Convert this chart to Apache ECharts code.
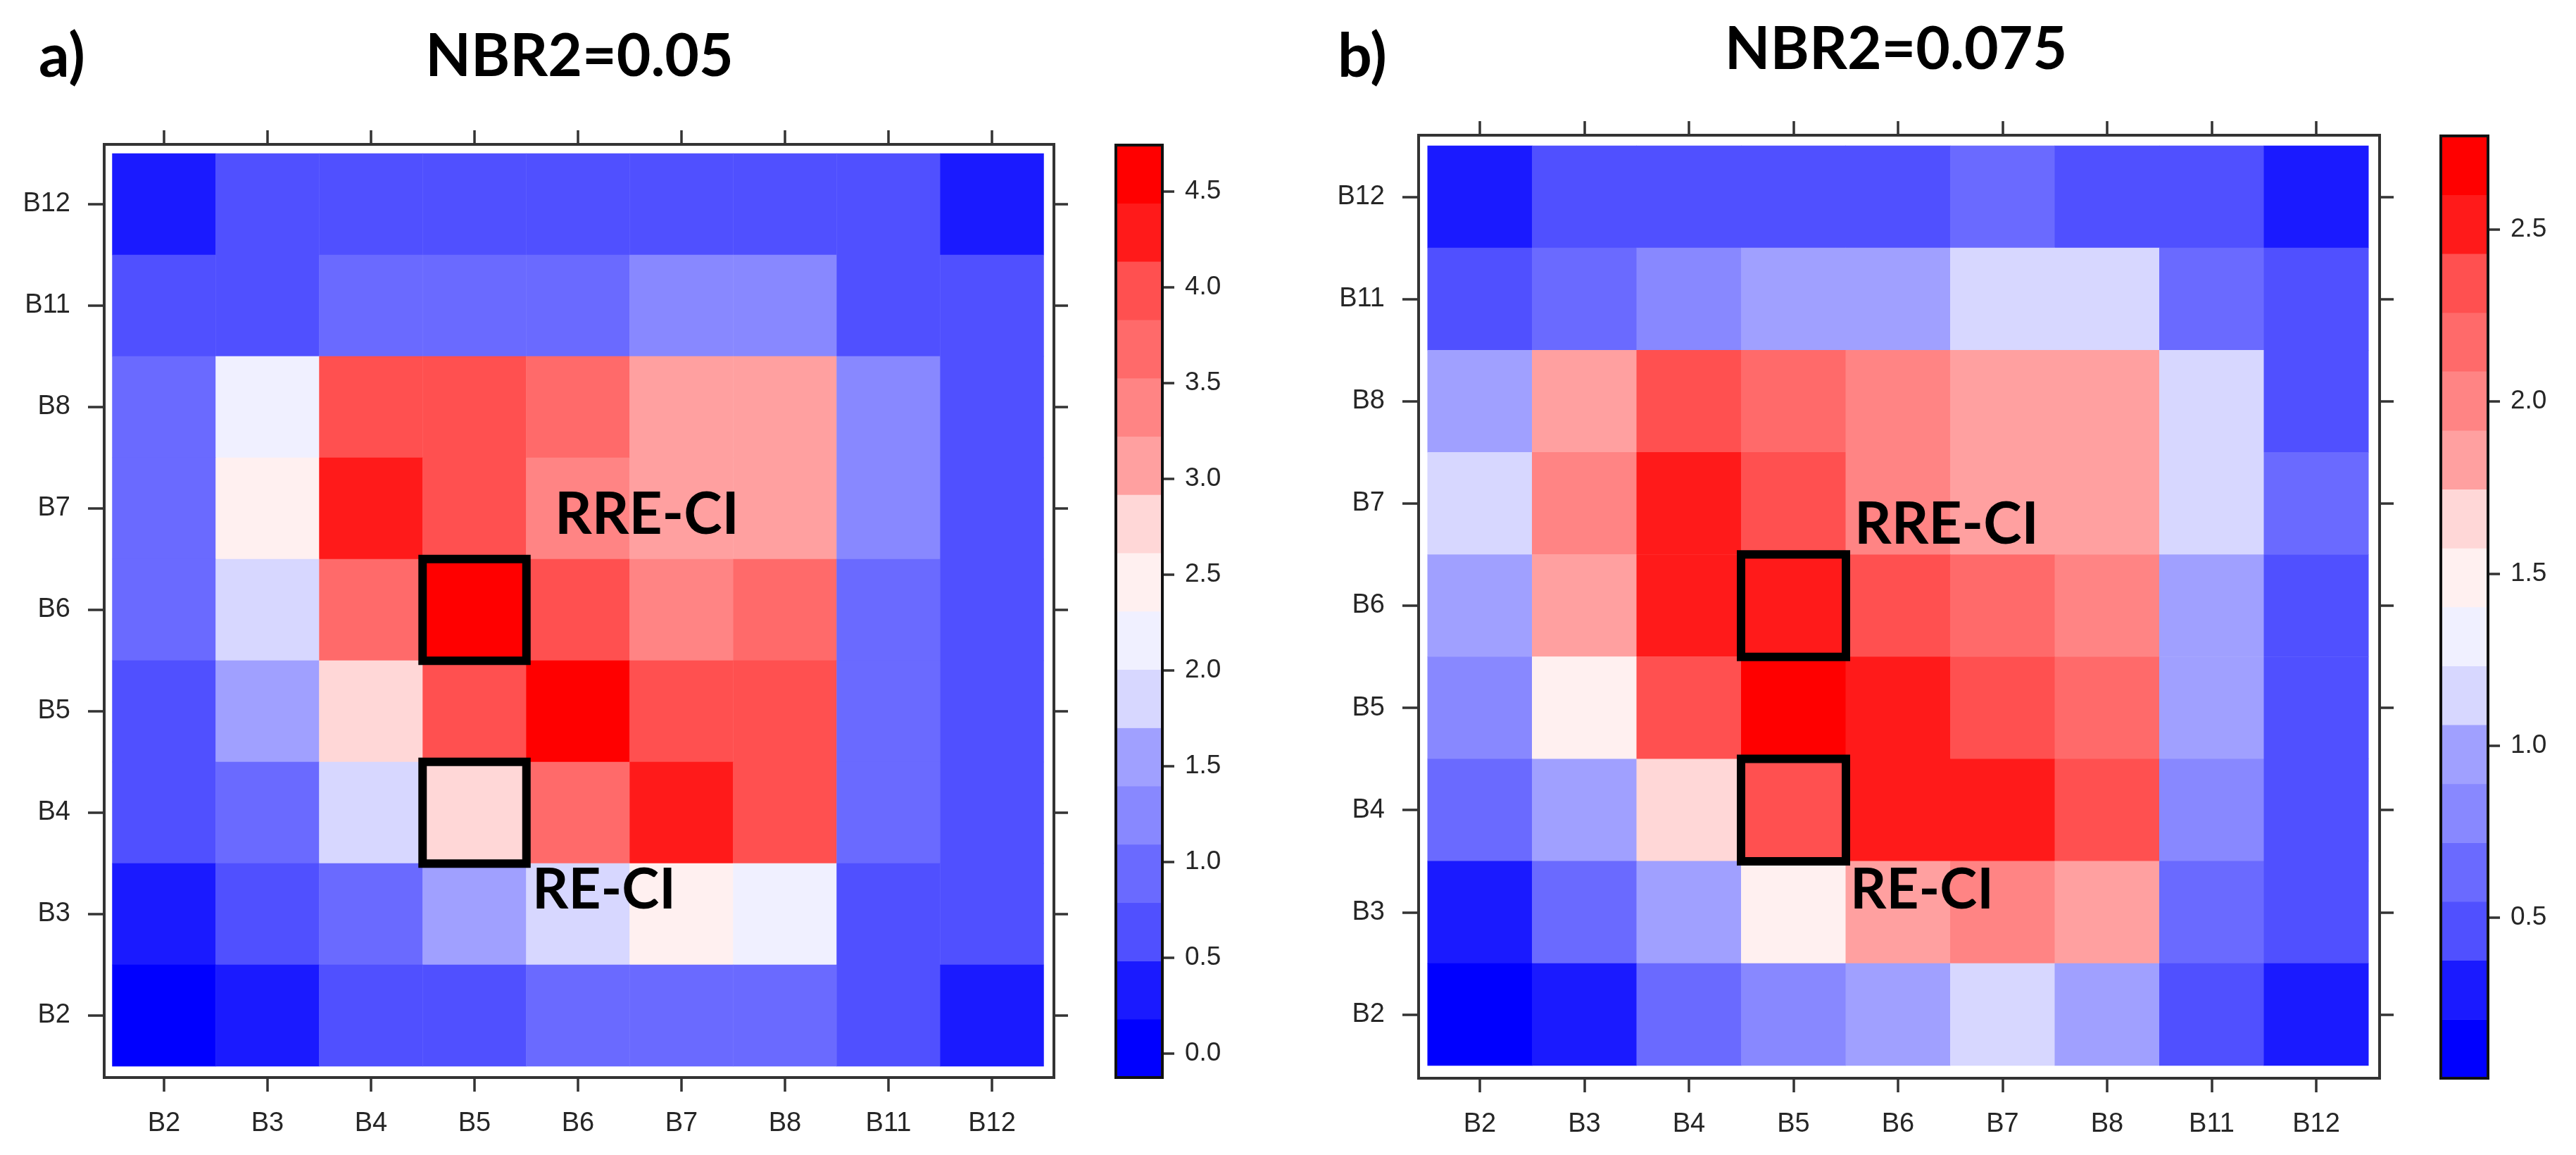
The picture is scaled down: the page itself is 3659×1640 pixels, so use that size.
<!DOCTYPE html>
<html>
<head>
<meta charset="utf-8">
<script src="https://cdn.jsdelivr.net/npm/echarts@6/dist/echarts.min.js"></script>
<style>
  html, body { margin: 0; background: #fff; }
  #chart { width: 3659px; height: 1640px; }
</style>
</head>
<body>
<div id="chart"></div>
<script>
// band names on both axes (bottom -> top for y)
const xCats = ['B2', 'B3', 'B4', 'B5', 'B6', 'B7', 'B8', 'B11', 'B12'];
const yCats = ['B2', 'B3', 'B4', 'B5', 'B6', 'B7', 'B8', 'B11', 'B12'];
// matrix rows as drawn, top -> bottom
const rowNames = ['B12', 'B11', 'B8', 'B7', 'B6', 'B5', 'B4', 'B3', 'B2'];

// a) NBR2 = 0.05
const valuesA = [
  [0.33, 0.64, 0.64, 0.64, 0.64, 0.64, 0.64, 0.64, 0.33],
  [0.64, 0.64, 0.94, 0.94, 0.94, 1.24, 1.24, 0.64, 0.64],
  [0.94, 2.16, 3.98, 3.98, 3.68, 3.07, 3.07, 1.24, 0.64],
  [0.94, 2.46, 4.29, 3.98, 3.37, 3.07, 3.07, 1.24, 0.64],
  [0.94, 1.85, 3.68, 4.59, 3.98, 3.37, 3.68, 0.94, 0.64],
  [0.64, 1.55, 2.77, 3.98, 4.59, 3.98, 3.98, 0.94, 0.64],
  [0.64, 0.94, 1.85, 2.77, 3.68, 4.29, 3.98, 0.94, 0.64],
  [0.33, 0.64, 0.94, 1.55, 1.85, 2.46, 2.16, 0.64, 0.64],
  [0.03, 0.33, 0.64, 0.64, 0.94, 0.94, 0.94, 0.64, 0.33]
];

// b) NBR2 = 0.075
const valuesB = [
  [0.29, 0.46, 0.46, 0.46, 0.46, 0.63, 0.46, 0.46, 0.29],
  [0.46, 0.63, 0.80, 0.97, 0.97, 1.15, 1.15, 0.63, 0.46],
  [0.97, 1.83, 2.34, 2.17, 2.00, 1.83, 1.83, 1.15, 0.46],
  [1.15, 2.00, 2.52, 2.34, 2.00, 1.83, 1.83, 1.15, 0.63],
  [0.97, 1.83, 2.52, 2.52, 2.34, 2.17, 2.00, 0.97, 0.46],
  [0.80, 1.49, 2.34, 2.69, 2.52, 2.34, 2.17, 0.97, 0.46],
  [0.63, 0.97, 1.66, 2.34, 2.52, 2.52, 2.34, 0.80, 0.46],
  [0.29, 0.63, 0.97, 1.49, 1.83, 2.00, 1.83, 0.63, 0.46],
  [0.12, 0.29, 0.63, 0.80, 0.97, 1.15, 0.97, 0.46, 0.29]
];

// colour key: range of the bar and its tick labels
const rangeA = [-0.125, 4.743];
const rangeB = [0.033, 2.772];
const ticksA = [0, 0.5, 1, 1.5, 2, 2.5, 3, 3.5, 4, 4.5];
const ticksB = [0.5, 1, 1.5, 2, 2.5];

// 16 bands, low -> high
const palette = [
  '#0000FF', '#1A1AFF', '#5050FF', '#6A6AFF', '#8888FF', '#A0A0FF', '#D7D7FF', '#F0F0FF',
  '#FFF0F0', '#FFD7D7', '#FFA0A0', '#FF8484', '#FF6A6A', '#FF5050', '#FF1A1A', '#FF0000'
];

// outlined cells [x, y]
const boxCells = [['B5', 'B6'], ['B5', 'B4']];

const titles = ['NBR2=0.05', 'NBR2=0.075'];
const tags = ['a)', 'b)'];

const panels = [
  {
    values: valuesA, range: rangeA, ticks: ticksA,
    frame: { left: 148, top: 205, width: 1349, height: 1325 },
    cells: { left: 159.5, top: 218, width: 1323, height: 1296 },
    cbar: { left: 1585, top: 206, width: 66, height: 1324 }
  },
  {
    values: valuesB, range: rangeB, ticks: ticksB,
    frame: { left: 2015, top: 192, width: 1365, height: 1339 },
    cells: { left: 2027.75, top: 207, width: 1336.5, height: 1306 },
    cbar: { left: 3467, top: 193, width: 67, height: 1338 }
  }
];

const labelFont = { fontFamily: 'Liberation Sans', fontSize: 38, color: '#262626' };
const tickStyle = { color: '#333', width: 3.5 };

const option = {
  animation: false,
  backgroundColor: '#fff',
  grid: [], xAxis: [], yAxis: [], series: [], visualMap: [], graphic: []
};

panels.forEach((p, i) => {
  const g = i * 3;
  const f = p.frame, c = p.cells;
  const offBottom = (f.top + f.height) - (c.top + c.height);
  const offTop = c.top - f.top;
  const offLeft = c.left - f.left;
  const offRight = (f.left + f.width) - (c.left + c.width);

  option.grid.push(
    Object.assign({ show: true, borderColor: '#333', borderWidth: 4, backgroundColor: 'transparent', outerBoundsMode: 'none' }, f),
    Object.assign({ outerBoundsMode: 'none' }, c),
    Object.assign({ show: true, borderColor: '#111', borderWidth: 4, backgroundColor: 'transparent', z: 5, outerBoundsMode: 'none' }, p.cbar)
  );

  const xi = option.xAxis.length;
  option.xAxis.push(
    { gridIndex: g + 1, type: 'category', data: xCats, position: 'bottom', offset: offBottom,
      axisLine: { show: false }, splitLine: { show: false },
      axisTick: { show: true, alignWithLabel: true, interval: 0, length: 20, lineStyle: tickStyle },
      axisLabel: Object.assign({ margin: 47, interval: 0 }, labelFont) },
    { gridIndex: g + 1, type: 'category', data: xCats, position: 'top', offset: offTop,
      axisLine: { show: false }, splitLine: { show: false },
      axisTick: { show: true, alignWithLabel: true, interval: 0, length: 20, lineStyle: tickStyle },
      axisLabel: { show: false } },
    { gridIndex: g + 2, type: 'category', data: [''], show: false }
  );

  const yi = option.yAxis.length;
  const bandIdx = palette.map((_, k) => String(k));
  option.yAxis.push(
    { gridIndex: g + 1, type: 'category', data: yCats, position: 'left', offset: offLeft,
      axisLine: { show: false }, splitLine: { show: false },
      axisTick: { show: true, alignWithLabel: true, interval: 0, length: 23, lineStyle: tickStyle },
      axisLabel: Object.assign({ margin: 48, interval: 0 }, labelFont) },
    { gridIndex: g + 1, type: 'category', data: yCats, position: 'right', offset: offRight,
      axisLine: { show: false }, splitLine: { show: false },
      axisTick: { show: true, alignWithLabel: true, interval: 0, length: 20, lineStyle: tickStyle },
      axisLabel: { show: false } },
    { gridIndex: g + 2, type: 'category', data: bandIdx, show: false },
    { gridIndex: g + 2, type: 'value', position: 'right', min: p.range[0], max: p.range[1],
      axisLine: { show: false }, splitLine: { show: false },
      axisTick: { show: true, length: 17, lineStyle: tickStyle, customValues: p.ticks },
      axisLabel: Object.assign({ margin: 32, customValues: p.ticks, formatter: v => v.toFixed(1) }, labelFont, { fontSize: 37 }) }
  );

  const data = [];
  p.values.forEach((row, r) => {
    row.forEach((v, k) => data.push([xCats[k], rowNames[r], v]));
  });

  const step = (p.range[1] - p.range[0]) / palette.length;
  const cbarData = palette.map((_, k) => [0, k, p.range[0] + (k + 0.5) * step]);

  const si = option.series.length;
  option.series.push(
    { type: 'heatmap', xAxisIndex: xi, yAxisIndex: yi, data: data, silent: true,
      emphasis: { disabled: true } },
    { type: 'heatmap', xAxisIndex: xi, yAxisIndex: yi, z: 4, silent: true,
      data: boxCells.map(b => [b[0], b[1], 1]),
      itemStyle: { color: 'rgba(0,0,0,0)', borderColor: '#000', borderWidth: 12 },
      emphasis: { disabled: true } },
    { type: 'heatmap', xAxisIndex: xi + 2, yAxisIndex: yi + 2, data: cbarData, silent: true,
      emphasis: { disabled: true } }
  );

  option.visualMap.push({
    type: 'piecewise', show: false, seriesIndex: [si, si + 2],
    pieces: palette.map((col, k) => ({
      gte: p.range[0] + k * step,
      lt: p.range[0] + (k + 1) * step + (k === palette.length - 1 ? 1e-6 : 0),
      color: col
    }))
  });
});

const bold = (size) => ({ fontFamily: 'Lato', fontWeight: 'bold', fontSize: size, fill: '#000' });
option.graphic = [
  { type: 'text', x: 55, y: 81, style: Object.assign({ text: tags[0], align: 'left', verticalAlign: 'middle' }, bold(86)) },
  { type: 'text', x: 1900, y: 81, style: Object.assign({ text: tags[1], align: 'left', verticalAlign: 'middle' }, bold(86)) },
  { type: 'text', x: 823, y: 81, style: Object.assign({ text: titles[0], align: 'center', verticalAlign: 'middle' }, bold(84)) },
  { type: 'text', x: 2693, y: 71, style: Object.assign({ text: titles[1], align: 'center', verticalAlign: 'middle' }, bold(84)) },
  { type: 'text', x: 788, y: 732, z: 10, style: Object.assign({ text: 'RRE-CI', align: 'left', verticalAlign: 'middle' }, bold(82)) },
  { type: 'text', x: 756, y: 1264, z: 10, style: Object.assign({ text: 'RE-CI', align: 'left', verticalAlign: 'middle' }, bold(80)) },
  { type: 'text', x: 2634, y: 746, z: 10, style: Object.assign({ text: 'RRE-CI', align: 'left', verticalAlign: 'middle' }, bold(82)) },
  { type: 'text', x: 2628, y: 1264, z: 10, style: Object.assign({ text: 'RE-CI', align: 'left', verticalAlign: 'middle' }, bold(80)) }
];

const chart = echarts.init(document.getElementById('chart'));
chart.setOption(option);
</script>
</body>
</html>
